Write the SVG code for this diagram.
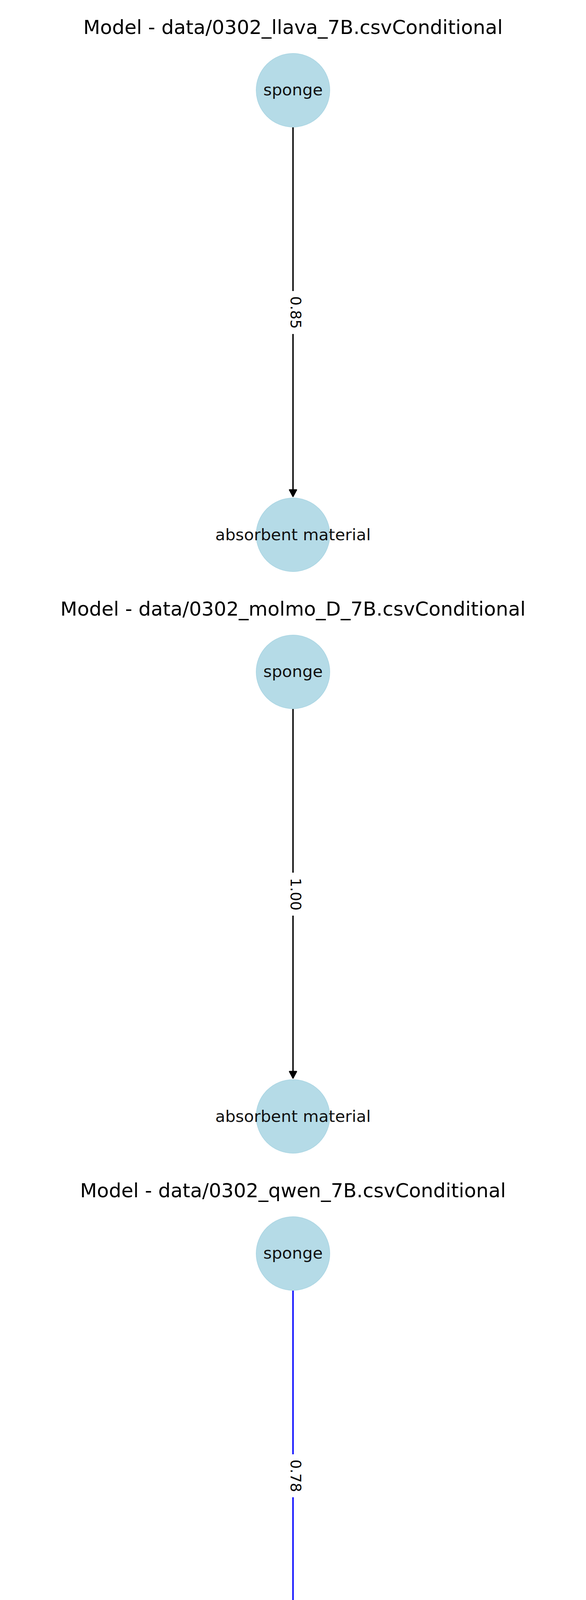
<svg xmlns="http://www.w3.org/2000/svg" width="1500" height="6000" viewBox="0 0 1500 6000">
<style>
.title{font-family:"DejaVu Sans","Liberation Sans",sans-serif;font-size:50px;fill:#000;text-anchor:middle}
.ntext{font-family:"DejaVu Sans","Liberation Sans",sans-serif;font-size:41.67px;fill:#111;text-anchor:middle}
.etext{font-family:"DejaVu Sans","Liberation Sans",sans-serif;font-size:37.5px;fill:#000;text-anchor:middle}
.node{fill:#b5dbe7;stroke:#aed7e4;stroke-width:2}
.edge{stroke-width:3.6;fill:none}
.k{stroke:#000}
.b{stroke:#0000ff}
.hk{fill:#000;stroke:#000;stroke-width:3;stroke-linejoin:round}
.hb{fill:#0000ff;stroke:#0000ff;stroke-width:3;stroke-linejoin:round}
</style>
<rect width="1500" height="6000" fill="#fff"/>

<g id="titles">
<text class="title" x="750" y="87">Model - data/0302_llava_7B.csvConditional</text>
<text class="title" x="750" y="1576">Model - data/0302_molmo_D_7B.csvConditional</text>
<text class="title" x="750" y="3065">Model - data/0302_qwen_7B.csvConditional</text>
<text class="title" x="750" y="4554">Model - data/0306_mllama_11B.csvConditional</text>
</g>

<g id="connectors">
<g id="edge1">
<line class="edge k" x1="750" y1="326" x2="750" y2="1255"/>
<polygon class="hk" points="741,1254 759,1254 750,1271"/>
<g transform="translate(757,800) rotate(90)"><rect x="-55" y="-28" width="110" height="56" fill="#fff"/><text class="etext" x="0" y="13.5">0.85</text></g>
</g>
<g id="edge2">
<line class="edge k" x1="750" y1="1815" x2="750" y2="2744"/>
<polygon class="hk" points="741,2743 759,2743 750,2760"/>
<g transform="translate(757,2289) rotate(90)"><rect x="-55" y="-28" width="110" height="56" fill="#fff"/><text class="etext" x="0" y="13.5">1.00</text></g>
</g>
<g id="edge3">
<line class="edge b" x1="750" y1="3304" x2="750" y2="4233"/>
<polygon class="hb" points="741,4232 759,4232 750,4249"/>
<g transform="translate(757,3778) rotate(90)"><rect x="-55" y="-28" width="110" height="56" fill="#fff"/><text class="etext" x="0" y="13.5">0.78</text></g>
</g>
<g id="edge4">
<line class="edge k" x1="750" y1="4793" x2="750" y2="5722"/>
<polygon class="hk" points="741,5721 759,5721 750,5738"/>
<g transform="translate(757,5267) rotate(90)"><rect x="-55" y="-28" width="110" height="56" fill="#fff"/><text class="etext" x="0" y="13.5">1.00</text></g>
</g>
</g>

<g id="p1-sponge"><circle class="node" cx="750" cy="231" r="94"/><text class="ntext" x="750" y="244">sponge</text></g>
<g id="p1-absorbent"><circle class="node" cx="750" cy="1369" r="94"/><text class="ntext" x="750" y="1383">absorbent material</text></g>
<g id="p2-sponge"><circle class="node" cx="750" cy="1720" r="94"/><text class="ntext" x="750" y="1733">sponge</text></g>
<g id="p2-absorbent"><circle class="node" cx="750" cy="2858" r="94"/><text class="ntext" x="750" y="2872">absorbent material</text></g>
<g id="p3-sponge"><circle class="node" cx="750" cy="3209" r="94"/><text class="ntext" x="750" y="3222">sponge</text></g>
<g id="p3-absorbent"><circle class="node" cx="750" cy="4347" r="94"/><text class="ntext" x="750" y="4361">absorbent material</text></g>
<g id="p4-sponge"><circle class="node" cx="750" cy="4698" r="94"/><text class="ntext" x="750" y="4711">sponge</text></g>
<g id="p4-absorbent"><circle class="node" cx="750" cy="5836" r="94"/><text class="ntext" x="750" y="5850">absorbent material</text></g>
</svg>
